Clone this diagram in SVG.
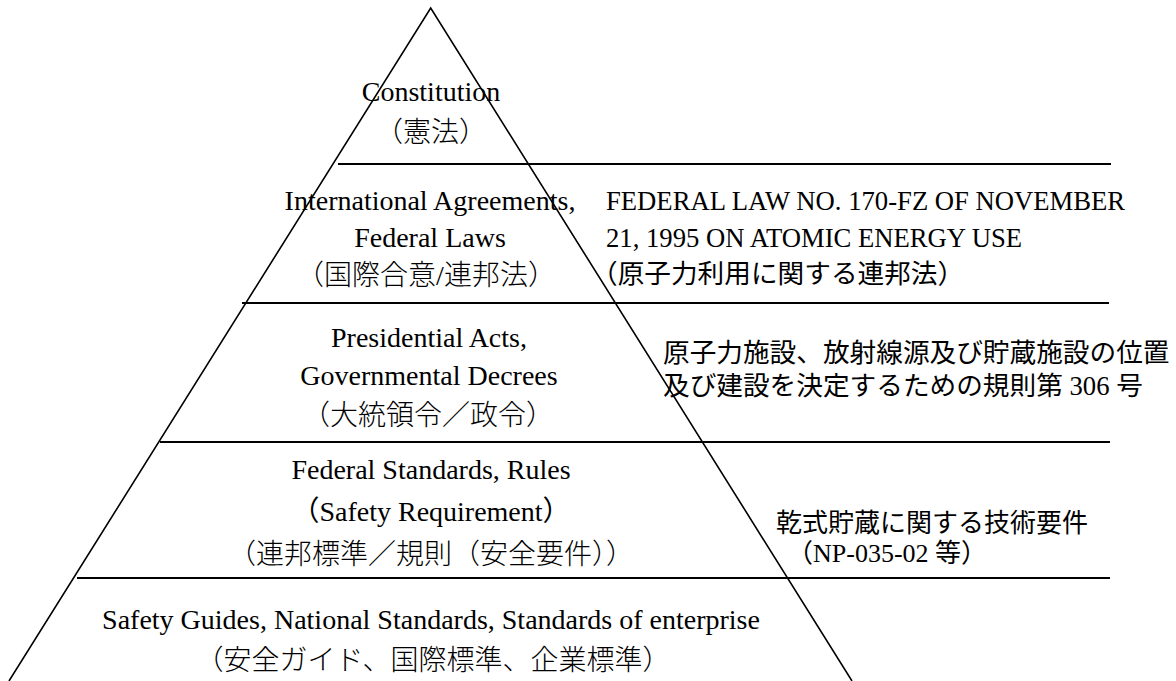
<svg xmlns="http://www.w3.org/2000/svg" width="1176" height="681" viewBox="0 0 1176 681">
<style>
.bg{fill:#fff}
.side{stroke:#000;stroke-width:1.6;fill:none}
.rule{stroke:#000;stroke-width:2;fill:none}
.t{font-family:"Liberation Serif","Noto Sans CJK JP",serif;fill:#000}
.p{font-size:28px;text-anchor:middle}
.lt{font-weight:300}
.r{font-size:26.67px}
.j{font-size:26px}
</style>
<rect class="bg" x="0" y="0" width="1176" height="681"/>
<g id="pyramid">
<path class="side" d="M9,681 L430.7,8 L852,681"/>
</g>
<g id="lines">
<line class="rule" x1="338" y1="164" x2="1111" y2="164"/>
<line class="rule" x1="242" y1="303" x2="1109" y2="303"/>
<line class="rule" x1="160" y1="442" x2="1110" y2="442"/>
<line class="rule" x1="77" y1="578" x2="1110" y2="578"/>
</g>
<g id="tier1" class="t p">
<text x="431" y="101">Constitution</text>
<text class="lt" x="431" y="142">（憲法）</text>
</g>
<g id="tier2" class="t p">
<text x="430" y="210">International Agreements,</text>
<text x="430" y="247">Federal Laws</text>
<text class="lt" x="426" y="285">（国際合意/連邦法）</text>
</g>
<g id="tier3" class="t p">
<text x="429" y="347">Presidential Acts,</text>
<text x="429" y="385">Governmental Decrees</text>
<text class="lt" x="428" y="425">（大統領令／政令）</text>
</g>
<g id="tier4" class="t p">
<text x="431" y="479">Federal Standards, Rules</text>
<text x="431" y="521">（Safety Requirement）</text>
<text class="lt" x="431" y="564">（連邦標準／規則（安全要件））</text>
</g>
<g id="tier5" class="t p">
<text x="431" y="629">Safety Guides, National Standards, Standards of enterprise</text>
<text class="lt" x="433" y="670">（安全ガイド、国際標準、企業標準）</text>
</g>
<g id="note-law" class="t r">
<text x="606" y="210">FEDERAL LAW NO. 170-FZ OF NOVEMBER</text>
<text x="606" y="247">21, 1995 ON ATOMIC ENERGY USE</text>
<text x="591" y="283">（原子力利用に関する連邦法）</text>
</g>
<g id="note-decree" class="t r">
<text x="663" y="362">原子力施設、放射線源及び貯蔵施設の位置</text>
<text x="663" y="395">及び建設を決定するための規則第 306 号</text>
</g>
<g id="note-standard" class="t j">
<text x="776" y="532">乾式貯蔵に関する技術要件</text>
<text x="787" y="562">（NP-035-02 等）</text>
</g>
</svg>
